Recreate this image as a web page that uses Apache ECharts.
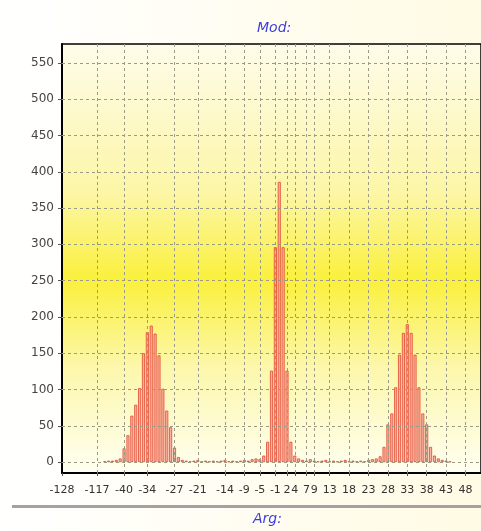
<!DOCTYPE html>
<html>
<head>
<meta charset="utf-8">
<script src="https://cdn.jsdelivr.net/npm/echarts@6/dist/echarts.min.js"></script>
<style>
  html, body { margin: 0; padding: 0; background: #fff; }
  #chart { width: 481px; height: 531px; }
</style>
</head>
<body>
<div id="chart"></div>
<script>
// bins (Arg) and their counts (Mod)
const binX = [
  -45, -44, -43, -42, -41, -40, -39, -38, -37, -36, -35, -34, -33, -32, -31, -30,
  -29, -28, -27, -26, -25, -24, -23, -22, -21, -20, -19, -18, -17, -16, -15, -14,
  -13, -12, -11, -10, -9, -8, -7, -6, -5, -4, -3, -2, -1, 0, 1, 2, 3, 4, 5, 6,
  7, 8, 9, 10, 11, 12, 13, 14, 15, 16, 17, 18, 19, 20, 21, 22, 23, 24, 25, 26,
  27, 28, 29, 30, 31, 32, 33, 34, 35, 36, 37, 38, 39, 40, 41, 42, 43, 44
]
const binY = [
  1, 2, 2, 3, 5, 19, 37, 64, 79, 102, 150, 179, 188, 177, 147, 101,
  71, 48, 20, 7, 3, 2, 1, 2, 3, 1, 2, 1, 2, 1, 2, 3,
  1, 2, 1, 2, 3, 2, 4, 5, 4, 9, 28, 126, 296, 386, 296, 126, 28, 9, 5, 3,
  2, 4, 2, 1, 2, 3, 1, 2, 1, 2, 3, 1, 2, 1, 2, 1, 3, 4, 5, 8,
  21, 52, 67, 103, 148, 178, 190, 178, 148, 103, 67, 52, 21, 9, 5, 3, 2, 1
]

// x tick positions on the axis and the text printed under them
const xTickValues = [-56, -47, -40, -34, -27, -21, -14, -9, -5, -1, 2, 4, 7, 9, 13, 18, 23, 28, 33, 38, 43, 48]
const xTickLabels = ['-128', '-117', '-40', '-34', '-27', '-21', '-14', '-9', '-5', '-1', '2', '4', '7', '9', '13', '18', '23', '28', '33', '38', '43', '48']
const yTicks = [0, 50, 100, 150, 200, 250, 300, 350, 400, 450, 500, 550]

const chart = echarts.init(document.getElementById('chart'))

const gridLine = {
  color: '#9c9a84',
  width: 1,
  type: [3, 3]
}

chart.setOption({
  animation: false,
  backgroundColor: new echarts.graphic.LinearGradient(0, 0, 1, 0, [
    { offset: 0, color: '#ffffff' },
    { offset: 1, color: '#fffbe4' }
  ]),
  title: {
    text: 'Mod:',
    left: 252,
    top: 16,
    textStyle: {
      color: '#3c3cdc',
      fontSize: 14,
      fontStyle: 'italic',
      fontWeight: 'normal',
      fontFamily: 'DejaVu Sans'
    }
  },
  graphic: [
    {
      type: 'rect',
      shape: { x: 12, y: 505, width: 469, height: 3 },
      style: { fill: '#a2a2a2' },
      silent: true
    },
    {
      type: 'text',
      left: 253,
      top: 512,
      style: {
        text: 'Arg:',
        fill: '#3c3cdc',
        font: 'italic 14px "DejaVu Sans"'
      },
      silent: true
    }
  ],
  grid: {
    left: 62,
    top: 44,
    width: 432,
    height: 429,
    show: true,
    borderColor: '#000',
    borderWidth: 1.5,
    backgroundColor: new echarts.graphic.LinearGradient(0, 0, 0, 1, [
      { offset: 0, color: '#fefcea' },
      { offset: 0.35, color: '#fcf6a6' },
      { offset: 0.55, color: '#faf03c' },
      { offset: 0.75, color: '#fcf7aa' },
      { offset: 1, color: '#fffff2' }
    ])
  },
  xAxis: {
    type: 'value',
    min: -56,
    max: 52,
    axisLine: {
      onZero: false,
      lineStyle: { color: '#000', width: 2 }
    },
    axisTick: {
      customValues: xTickValues,
      length: 3,
      lineStyle: { color: '#555' }
    },
    axisLabel: {
      customValues: xTickValues,
      margin: 12,
      color: '#333',
      fontSize: 11,
      fontFamily: 'DejaVu Sans',
      formatter: function (v) {
        const i = xTickValues.indexOf(v)
        return i >= 0 ? xTickLabels[i] : ''
      }
    },
    splitLine: { show: false }
  },
  yAxis: {
    type: 'value',
    min: -15,
    max: 576,
    axisLine: {
      show: true,
      onZero: false,
      lineStyle: { color: '#000', width: 2 }
    },
    axisTick: {
      show: true,
      customValues: yTicks,
      length: 4,
      lineStyle: { color: '#555' }
    },
    axisLabel: {
      customValues: yTicks,
      margin: 8,
      color: '#444',
      fontSize: 12,
      fontFamily: 'DejaVu Sans'
    },
    splitLine: { show: false }
  },
  series: [{
    type: 'bar',
    data: binX.map((x, i) => [x, binY[i]]),
    barWidth: 3,
    itemStyle: {
      color: '#f9b4a4',
      borderColor: '#e2462e',
      borderWidth: 0.8
    },
    markLine: {
      silent: true,
      symbol: ['none', 'none'],
      label: { show: false },
      lineStyle: gridLine,
      data: xTickValues.slice(1).map(v => ({ xAxis: v }))
        .concat(yTicks.map(v => ({ yAxis: v })))
    }
  }]
})
</script>
</body>
</html>
